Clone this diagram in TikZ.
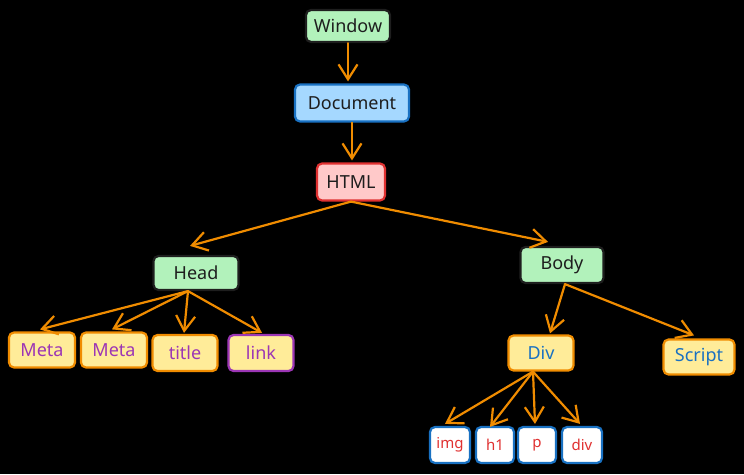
\documentclass[tikz,border=0pt]{standalone}
\usepackage{fontspec}
\setmainfont{Noto Sans}
\usetikzlibrary{arrows.meta,calc}
\definecolor{bgc}{HTML}{000000}
\definecolor{ink}{HTML}{1E1E1E}
\definecolor{gfill}{HTML}{B2F2BB}
\definecolor{bfill}{HTML}{A5D8FF}
\definecolor{bstroke}{HTML}{1971C2}
\definecolor{rfill}{HTML}{FFC9C9}
\definecolor{rstroke}{HTML}{E03131}
\definecolor{yfill}{HTML}{FFEC99}
\definecolor{ostroke}{HTML}{F08C00}
\definecolor{purp}{HTML}{9C36B5}
\tikzset{
  box/.style={rounded corners=5pt, line width=2.2pt, inner sep=0pt, font=\fontsize{18}{20}\selectfont},
  greenbox/.style={box, fill=gfill, draw=ink, text=ink},
  bluebox/.style={box, fill=bfill, draw=bstroke, text=ink},
  redbox/.style={box, fill=rfill, draw=rstroke, text=ink},
  metabox/.style={box, fill=yfill, draw=ostroke, text=purp},
  linkbox/.style={box, fill=yfill, draw=purp, text=purp},
  divbox/.style={box, fill=yfill, draw=ostroke, text=bstroke},
  leafbox/.style={box, fill=white, draw=bstroke, text=rstroke, font=\fontsize{15}{17}\selectfont},
  conn/.style={draw=ostroke, line width=2.2pt, line cap=round, -{Straight Barb[length=15pt,width=19pt,line width=2.2pt]}},
}
\begin{document}
\begin{tikzpicture}[x=1pt,y=-1pt]
\fill[bgc] (0,0) rectangle (744,474);
\useasboundingbox (0,0) rectangle (744,474);
\node[greenbox, minimum width=84pt, minimum height=32pt] (win) at (348,26) {Window};
\node[bluebox, minimum width=114pt, minimum height=37pt] (doc) at (352,103) {Document};
\node[redbox, minimum width=68pt, minimum height=37pt] (html) at (351,182) {HTML};
\node[greenbox, minimum width=85pt, minimum height=34pt] (head) at (196,273) {Head};
\node[greenbox, minimum width=83pt, minimum height=36pt] (body) at (562,265) {Body};
\node[metabox, minimum width=66pt, minimum height=35pt] (meta1) at (42,350) {Meta};
\node[metabox, minimum width=66pt, minimum height=35pt] (meta2) at (114,350) {Meta};
\node[metabox, minimum width=65pt, minimum height=36pt] (title) at (185,353) {title};
\node[linkbox, minimum width=65pt, minimum height=36pt] (link) at (261,353) {link};
\node[divbox, minimum width=65pt, minimum height=35pt] (div) at (541,353) {Div};
\node[divbox, minimum width=71pt, minimum height=35pt] (script) at (699,357) {Script};
\node[leafbox, minimum width=40pt, minimum height=36pt] (img) at (450,445) {img};
\node[leafbox, minimum width=38pt, minimum height=36pt] (h1) at (495,445) {h1};
\node[leafbox, minimum width=38pt, minimum height=36pt] (p) at (537,445) {p};
\node[leafbox, minimum width=40pt, minimum height=36pt] (div2) at (582,445) {div};
\draw[conn, shorten >=2pt] (win.south) -- (win.south |- doc.north);
\draw[conn, shorten >=2pt] (doc.south) -- (doc.south |- html.north);
\draw[conn] (html.south) -- ($(head.north)+(-6,-9)$);
\draw[conn] (html.south) -- ($(body.north)+(-14,-4)$);
\draw[conn] ($(head.south)+(-8,0)$) -- ($(meta1.north)+(-2,-2)$);
\draw[conn] ($(head.south)+(-8,0)$) -- ($(meta2.north)+(-2,-2)$);
\draw[conn] ($(head.south)+(-8,0)$) -- ($(title.north)+(-1,-1)$);
\draw[conn] ($(head.south)+(-8,0)$) -- ($(link.north)+(1,-1)$);
\draw[conn] ($(body.south)+(3,0)$) -- ($(div.north)+(9,-1)$);
\draw[conn] ($(body.south)+(3,0)$) -- ($(script.north)+(-5,-3)$);
\draw[conn] ($(div.south)+(-8,0)$) -- ($(img.north)+(-5,-2)$);
\draw[conn] ($(div.south)+(-8,0)$) -- ($(h1.north)+(-5,1)$);
\draw[conn] ($(div.south)+(-8,0)$) -- ($(p.north)+(-2,-2)$);
\draw[conn] ($(div.south)+(-8,0)$) -- ($(div2.north)+(-2,-2)$);
\end{tikzpicture}
\end{document}
